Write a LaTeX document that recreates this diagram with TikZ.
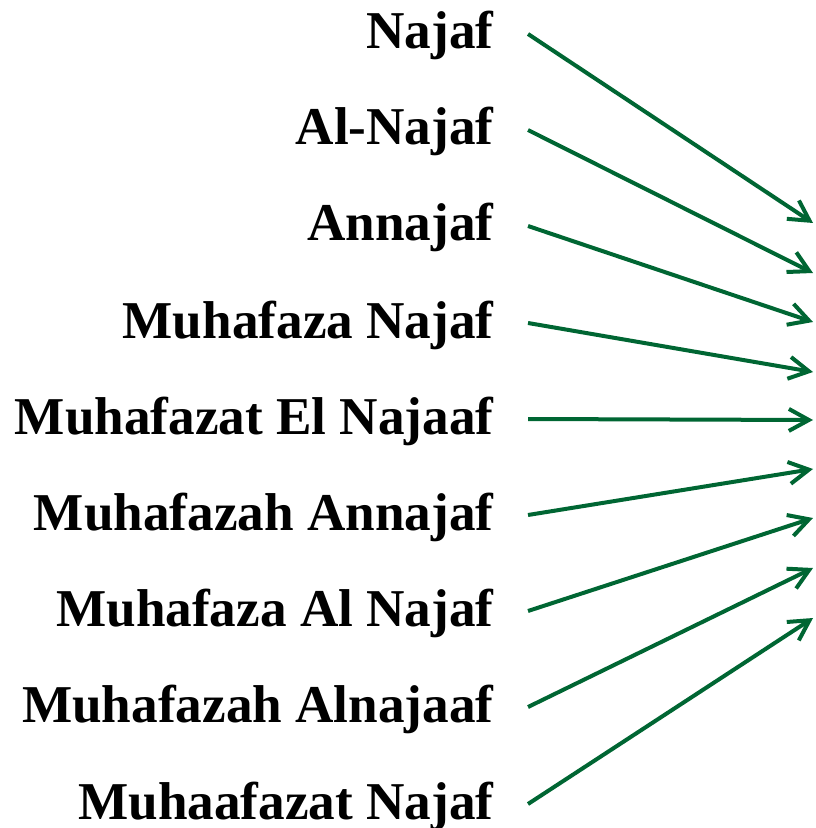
\documentclass[tikz,border=0pt]{standalone}
\usepackage{fontspec}
\setmainfont{Liberation Serif}
\usetikzlibrary{arrows.meta}
\definecolor{vert}{RGB}{0,102,51}

\begin{document}
\begin{tikzpicture}[x=0.5pt,y=-0.5pt]
	\tikzstyle{nom}=[anchor=base east,inner sep=0pt,
	  font=\fontsize{26.6}{32}\selectfont\bfseries]
	\tikzstyle{fleche}=[-{Straight Barb[length=10pt,width=11pt]},
	  line width=2pt,color=vert]
	\useasboundingbox (0,0) rectangle (815,828);
	% names on the left
	\node[nom] (n1) at (494,49) {Najaf};
	\node[nom] (n2) at (494,145) {Al-Najaf};
	\node[nom] (n3) at (494,241) {Annajaf};
	\node[nom] (n4) at (494,338) {Muhafaza Najaf};
	\node[nom] (n5) at (494,434) {Muhafazat El Najaaf};
	\node[nom] (n6) at (494,530) {Muhafazah Annajaf};
	\node[nom] (n7) at (494,626) {Muhafaza Al Najaf};
	\node[nom] (n8) at (494,722) {Muhafazah Alnajaaf};
	\node[nom] (n9) at (494,819) {Muhaafazat Najaf};
	% start and end points of the arrows
	\coordinate (s1) at (528,34); \coordinate (t1) at (813,223);
	\coordinate (s2) at (528,130); \coordinate (t2) at (813,273);
	\coordinate (s3) at (528,226); \coordinate (t3) at (813,322);
	\coordinate (s4) at (528,323); \coordinate (t4) at (813,372);
	\coordinate (s5) at (528,419); \coordinate (t5) at (813,420);
	\coordinate (s6) at (528,515); \coordinate (t6) at (813,469);
	\coordinate (s7) at (528,611); \coordinate (t7) at (813,518);
	\coordinate (s8) at (528,707); \coordinate (t8) at (813,568);
	\coordinate (s9) at (528,804); \coordinate (t9) at (813,618);
	\draw[fleche] (s1) -- (t1); \draw[fleche] (s2) -- (t2);
	\draw[fleche] (s3) -- (t3); \draw[fleche] (s4) -- (t4);
	\draw[fleche] (s5) -- (t5); \draw[fleche] (s6) -- (t6);
	\draw[fleche] (s7) -- (t7); \draw[fleche] (s8) -- (t8);
	\draw[fleche] (s9) -- (t9);
\end{tikzpicture}
\end{document}
